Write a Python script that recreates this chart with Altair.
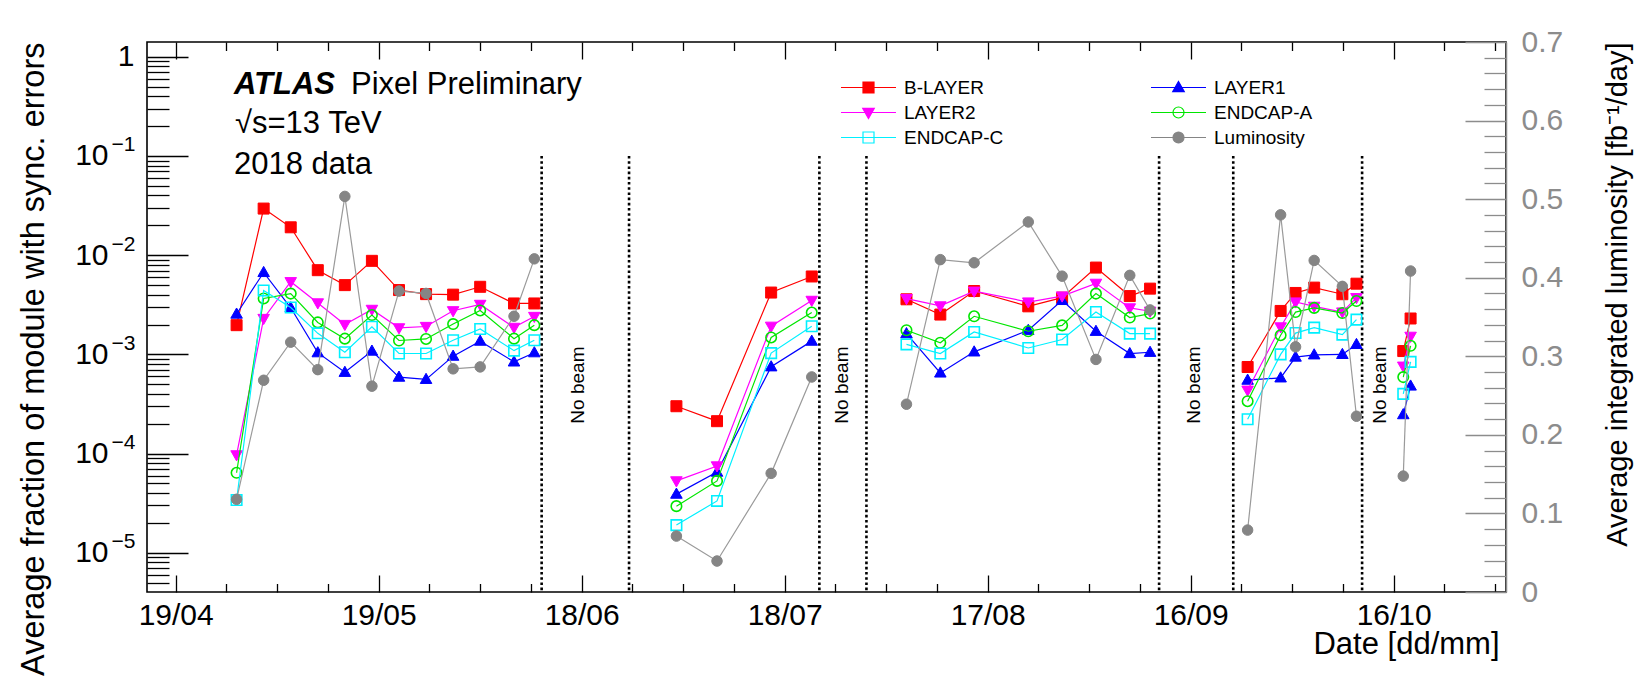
import altair as alt
import pandas as pd

FONT = "Liberation Sans"

# ---------------- values ----------------
SERIES = ["B-LAYER", "LAYER1", "LAYER2", "ENDCAP-A", "ENDCAP-C", "Luminosity"]
LEGEND_COL1 = ["B-LAYER", "LAYER2", "ENDCAP-C"]
LEGEND_COL2 = ["LAYER1", "ENDCAP-A", "Luminosity"]

DATES = [
    "2018-04-28T00:00", "2018-05-02T00:00", "2018-05-06T00:00", "2018-05-10T00:00",
    "2018-05-14T00:00", "2018-05-18T00:00", "2018-05-22T00:00", "2018-05-26T00:00",
    "2018-05-30T00:00", "2018-06-03T00:00", "2018-06-08T00:00", "2018-06-11T00:00",
    "2018-07-02T00:00", "2018-07-08T00:00", "2018-07-16T00:00", "2018-07-22T00:00",
    "2018-08-05T00:00", "2018-08-10T00:00", "2018-08-15T00:00", "2018-08-23T00:00",
    "2018-08-28T00:00", "2018-09-02T00:00", "2018-09-07T00:00", "2018-09-10T00:00",
    "2018-09-24T10:00", "2018-09-29T07:00", "2018-10-01T12:00", "2018-10-04T06:00",
    "2018-10-08T10:00", "2018-10-10T12:00",
    "2018-10-17T10:00", "2018-10-18T12:00",
]
PERIOD = [1, 1, 1, 1, 1, 1, 1, 1, 1, 1, 1, 1,
          2, 2, 2, 2,
          3, 3, 3, 3, 3, 3, 3, 3,
          4, 4, 4, 4, 4, 4,
          5, 5]

B_LAYER = [1.97e-3, 2.95e-2, 1.91e-2, 7.06e-3, 4.99e-3, 8.77e-3, 4.45e-3, 4.05e-3, 4.0e-3, 4.8e-3, 3.26e-3, 3.26e-3,
           3.0e-4, 2.12e-4, 4.2e-3, 6.1e-3,
           3.59e-3, 2.52e-3, 4.35e-3, 3.05e-3, 3.73e-3, 7.5e-3, 3.87e-3, 4.6e-3,
           7.46e-4, 2.74e-3, 4.16e-3, 4.71e-3, 4.04e-3, 5.16e-3,
           1.08e-3, 2.3e-3]
LAYER1 = [2.55e-3, 6.7e-3, 2.95e-3, 1.04e-3, 6.6e-4, 1.08e-3, 5.9e-4, 5.6e-4, 9.6e-4, 1.36e-3, 8.4e-4, 1.04e-3,
          3.9e-5, 6.5e-5, 7.5e-4, 1.36e-3,
          1.62e-3, 6.5e-4, 1.06e-3, 1.75e-3, 3.5e-3, 1.71e-3, 1.02e-3, 1.05e-3,
          5.5e-4, 5.8e-4, 9.4e-4, 9.9e-4, 1.0e-3, 1.26e-3,
          2.47e-4, 4.8e-4]
LAYER2 = [9.7e-5, 2.3e-3, 5.4e-3, 3.3e-3, 2.0e-3, 2.84e-3, 1.85e-3, 1.91e-3, 2.75e-3, 3.19e-3, 1.87e-3, 2.41e-3,
          5.3e-5, 7.5e-5, 1.92e-3, 3.5e-3,
          3.65e-3, 3.08e-3, 4.33e-3, 3.37e-3, 3.87e-3, 5.2e-3, 2.94e-3, 2.72e-3,
          4.35e-4, 1.89e-3, 3.37e-3, 3.05e-3, 2.67e-3, 3.73e-3,
          7.6e-4, 1.52e-3]
ENDCAP_A = [6.4e-5, 3.66e-3, 4.1e-3, 2.1e-3, 1.44e-3, 2.49e-3, 1.38e-3, 1.43e-3, 2.02e-3, 2.77e-3, 1.44e-3, 1.97e-3,
            2.95e-5, 5.3e-5, 1.48e-3, 2.64e-3,
            1.75e-3, 1.31e-3, 2.42e-3, 1.71e-3, 1.96e-3, 4.1e-3, 2.35e-3, 2.58e-3,
            3.37e-4, 1.56e-3, 2.67e-3, 2.94e-3, 2.61e-3, 3.45e-3,
            5.9e-4, 1.22e-3]
ENDCAP_C = [3.4e-5, 4.4e-3, 2.97e-3, 1.63e-3, 1.05e-3, 1.9e-3, 1.02e-3, 1.02e-3, 1.39e-3, 1.8e-3, 1.09e-3, 1.39e-3,
            1.9e-5, 3.33e-5, 1.03e-3, 1.92e-3,
            1.26e-3, 1.02e-3, 1.68e-3, 1.16e-3, 1.41e-3, 2.67e-3, 1.62e-3, 1.62e-3,
            2.22e-4, 1.0e-3, 1.64e-3, 1.86e-3, 1.58e-3, 2.24e-3,
            4.0e-4, 8.4e-4]
LUMINOSITY = [0.118, 0.2695, 0.318, 0.283, 0.5035, 0.262, 0.383, 0.380, 0.284, 0.2865, 0.351, 0.424,
              0.0712, 0.0394, 0.151, 0.2737,
              0.239, 0.423, 0.419, 0.471, 0.402, 0.296, 0.403, 0.359,
              0.0788, 0.480, 0.312, 0.422, 0.389, 0.2237,
              0.1475, 0.4085]

NO_BEAM_EDGES = ["2018-06-12T02:00", "2018-06-25T00:00", "2018-07-23T03:00", "2018-07-30T02:00",
                 "2018-09-11T08:00", "2018-09-22T07:00", "2018-10-11T08:00"]
NO_BEAM_LABEL_DATES = ["2018-06-17T12:00", "2018-07-26T10:00", "2018-09-16T12:00", "2018-10-14T00:00"]
NO_BEAM_EDGE_TOP = 0.1
NO_BEAM_LABEL_LEVEL = 4.9e-4

X_MAJOR = [(4, 19, 0), (5, 19, 0), (6, 18, 0), (7, 18, 0), (8, 17, 0), (9, 16, 0), (10, 16, 0)]
X_MINOR = [(4, 26, 12), (5, 4, 0), (5, 11, 12), (5, 26, 12), (6, 3, 0), (6, 10, 12),
           (6, 25, 12), (7, 3, 0), (7, 10, 12), (7, 25, 12), (8, 2, 0), (8, 9, 12),
           (8, 24, 12), (9, 1, 0), (9, 8, 12), (9, 23, 12), (10, 1, 0), (10, 8, 12),
           (10, 23, 12), (10, 31, 0)]
Y_MAJOR = [1e-5, 1e-4, 1e-3, 1e-2, 1e-1, 1.0]
Y_MINOR = [m * 10.0 ** e for e in range(-6, 1) for m in range(2, 10) if 4.05e-6 < m * 10.0 ** e < 1.41]
R_MAJOR = [0.0, 0.1, 0.2, 0.3, 0.4, 0.5, 0.6, 0.7]
R_MINOR = [round(k * 0.02, 2) for k in range(1, 35) if k % 5 != 0]

# ---------------- styling ----------------
W, H = 1359, 550
COLORS = ["#ff0000", "#0000ff", "#ff00ff", "#00e600", "#00f0ff", "#858585"]
SQ = "M-1,-1H1V1H-1Z"
TU = "M0,-1.1L1.05,0.75H-1.05Z"
TD = "M0,1.1L1.05,-0.75H-1.05Z"
CI = "M1,0A1,1,0,1,1,-1,0A1,1,0,1,1,1,0Z"
SHAPES = [SQ, TU, TD, CI, SQ, CI]
FILLED = [True, True, True, False, False, True]
STYLE = {s: (c, p, f) for s, c, p, f in zip(SERIES, COLORS, SHAPES, FILLED)}
VALUES = [B_LAYER, LAYER1, LAYER2, ENDCAP_A, ENDCAP_C, LUMINOSITY]


def dt(m, d, h=0, mi=0):
    return alt.DateTime(year=2018, month=m, date=d, hours=h, minutes=mi)


XS = alt.Scale(type="time", domain=[dt(4, 14, 18, 15), dt(11, 1, 14, 24)], nice=False)
YS = alt.Scale(type="log", domain=[4.02e-6, 1.41], nice=False)
YR = alt.Scale(type="linear", domain=[0, 0.7], nice=False, zero=False)

rows = []
for name, vals in zip(SERIES, VALUES):
    for d, p, v in zip(DATES, PERIOD, vals):
        rows.append({"date": d, "period": p, "series": name, "value": v})
df = pd.DataFrame(rows)

TICKCOL = "black"
GRAY = "#8c8c8c"


def tick_axis(orient, offset, values, size, color=TICKCOL):
    return alt.Axis(orient=orient, offset=offset, values=values, ticks=True, tickSize=size,
                    tickWidth=1.3, tickColor=color, labels=False, domain=False, grid=False, title=None)


xmaj = [dt(*t) for t in X_MAJOR]
xmin = [dt(*t) for t in X_MINOR]

X_AXES = [
    alt.Axis(orient="bottom", values=xmaj, format="%d/%m", ticks=False, domain=False, grid=False,
             labelFontSize=30, labelPadding=8, labelFlush=False, labelOverlap=False,
             title="Date [dd/mm]", titleFontSize=31, titleAnchor="end", titleAlign="right",
             titleX=W - 7, titleY=61, titleBaseline="alphabetic"),
    tick_axis("top", -H, xmaj, 17),
    tick_axis("top", -H, xmin, 8.5),
    tick_axis("bottom", -H, xmaj, 17),
    tick_axis("bottom", -H, xmin, 8.5),
]
EXP_W = 26
Y_AXES = [
    alt.Axis(orient="left", values=Y_MAJOR[:-1], ticks=False, domain=False, grid=False,
             labelFontSize=30, labelPadding=13 + EXP_W, labelOverlap=False, labelExpr="'10'",
             title="Average fraction of module with sync. errors", titleFontSize=32.5,
             titleAngle=270, titleAnchor="end", titleAlign="right", titleBaseline="middle",
             titleX=-114, titleY=0),
    alt.Axis(orient="left", values=Y_MAJOR[:-1], ticks=False, domain=False, grid=False,
             labelFontSize=21, labelPadding=12, labelOverlap=False, labelOffset=-11,
             labelExpr="'−' + round(-log(datum.value)/LN10)", title=None),
    alt.Axis(orient="left", values=Y_MAJOR[-1:], ticks=False, domain=False, grid=False,
             labelFontSize=30, labelPadding=13, labelOverlap=False, labelExpr="'1'", title=None),
    tick_axis("right", -W, Y_MAJOR, 41),
    tick_axis("right", -W, Y_MINOR, 22),
]
R_AXES = [
    alt.Axis(orient="right", values=R_MAJOR, ticks=False, domain=True, domainColor=GRAY, domainWidth=1.5,
             grid=False, labelFontSize=30, labelPadding=15, labelColor=GRAY, labelOverlap=False,
             labelExpr="datum.value == 0 ? '0' : format(datum.value, '.1f')",
             title="Average integrated luminosity [fb⁻¹/day]", titleFontSize=29,
             titleAngle=270, titleAnchor="end", titleAlign="right", titleBaseline="middle",
             titleX=111, titleY=0),
    tick_axis("left", -W, R_MAJOR, 41, GRAY),
    tick_axis("left", -W, R_MINOR, 22, GRAY),
]

counter = {"x": 0, "y": 0}


def next_axis(kind, axes):
    i = counter[kind]
    counter[kind] += 1
    return axes[i] if i < len(axes) else None


def X(field="date:T"):
    return alt.X(field, scale=XS, axis=next_axis("x", X_AXES))


def Y(field):
    return alt.Y(field, scale=YS, axis=next_axis("y", Y_AXES))


left_layers = []

edges = pd.DataFrame({"date": NO_BEAM_EDGES, "top": [NO_BEAM_EDGE_TOP] * len(NO_BEAM_EDGES)})
left_layers.append(
    alt.Chart(edges).mark_rule(color="black", strokeWidth=2.6, strokeDash=[2.6, 2.6])
    .encode(x=X(), y=Y("top:Q"), y2=alt.value(H))
)
nb = pd.DataFrame({"date": NO_BEAM_LABEL_DATES, "level": [NO_BEAM_LABEL_LEVEL] * len(NO_BEAM_LABEL_DATES),
                   "txt": ["No beam"] * len(NO_BEAM_LABEL_DATES)})
left_layers.append(
    alt.Chart(nb).mark_text(angle=270, font=FONT, fontSize=19, color="black", align="center", baseline="middle")
    .encode(x=X(), y=Y("level:Q"), text="txt:N")
)

for name in SERIES[:5]:
    col, shp, filled = STYLE[name]
    sub = df[df.series == name]
    left_layers.append(
        alt.Chart(sub).mark_line(color=col, strokeWidth=1.2)
        .encode(x=X(), y=Y("value:Q"), detail="period:N")
    )
    if filled:
        mk = alt.Chart(sub).mark_point(shape=shp, size=121, filled=True, fill=col, stroke=col,
                                       strokeWidth=1, opacity=1)
    else:
        mk = alt.Chart(sub).mark_point(shape=shp, size=110, filled=False, fill="transparent", stroke=col,
                                       strokeWidth=1.6, opacity=1)
    left_layers.append(mk.encode(x=X(), y=Y("value:Q")))


def legend_layer(names, lx, ly):
    leg = dict(title=None, orient="none", legendX=lx, legendY=ly, direction="vertical",
               rowPadding=5, labelFont=FONT, labelFontSize=19, labelColor="black", labelOffset=26,
               symbolSize=121, symbolStrokeWidth=1.2, symbolOpacity=1, padding=0, labelLimit=400)
    paths = ["M-5,0H5" + STYLE[n][1] for n in names]
    cols = [STYLE[n][0] for n in names]
    fills = [STYLE[n][0] if STYLE[n][2] else "transparent" for n in names]
    return alt.Chart(pd.DataFrame({"series": names})).mark_point(opacity=0, size=121, filled=True).encode(
        x=alt.value(-60), y=alt.value(-60),
        shape=alt.Shape("series:N", scale=alt.Scale(domain=names, range=paths), legend=alt.Legend(**leg)),
        stroke=alt.Stroke("series:N", scale=alt.Scale(domain=names, range=cols), legend=alt.Legend(**leg)),
        fill=alt.Fill("series:N", scale=alt.Scale(domain=names, range=fills), legend=alt.Legend(**leg)),
    )


left_layers.append(legend_layer(LEGEND_COL1, 712, 36))
left_layers.append(legend_layer(LEGEND_COL2, 1022, 36))

one = pd.DataFrame({"a": [0]})
left_layers.append(alt.Chart(one).mark_text(text="ATLAS", font=FONT, fontSize=31, fontStyle="italic",
                                            fontWeight="bold", align="left", baseline="alphabetic")
                   .encode(x=alt.value(87), y=alt.value(51.5)))
left_layers.append(alt.Chart(one).mark_text(text="Pixel Preliminary", font=FONT, fontSize=31,
                                            align="left", baseline="alphabetic")
                   .encode(x=alt.value(204), y=alt.value(51.5)))
left_layers.append(alt.Chart(one).mark_text(text="√s=13 TeV", font=FONT, fontSize=31,
                                            align="left", baseline="alphabetic")
                   .encode(x=alt.value(88), y=alt.value(91)))
left_layers.append(alt.Chart(one).mark_text(text="2018 data", font=FONT, fontSize=31,
                                            align="left", baseline="alphabetic")
                   .encode(x=alt.value(87), y=alt.value(131.5)))

left = (alt.layer(*left_layers)
        .resolve_axis(x="independent", y="independent")
        .resolve_scale(shape="independent", stroke="independent", fill="independent"))

lumi = df[df.series == "Luminosity"]
rx = alt.X("date:T", scale=XS, axis=None)
right = alt.layer(
    alt.Chart(lumi).mark_line(color="#9a9a9a", strokeWidth=1.2)
    .encode(x=rx, y=alt.Y("value:Q", scale=YR, axis=R_AXES[0]), detail="period:N"),
    alt.Chart(lumi).mark_point(shape=CI, size=110, filled=True, fill=COLORS[5], stroke=COLORS[5],
                               strokeWidth=1, opacity=1)
    .encode(x=rx, y=alt.Y("value:Q", scale=YR, axis=R_AXES[1])),
    alt.Chart(lumi).mark_point(opacity=0)
    .encode(x=rx, y=alt.Y("value:Q", scale=YR, axis=R_AXES[2])),
).resolve_axis(y="independent")

chart = (
    alt.layer(left, right)
    .resolve_scale(y="independent")
    .properties(width=W, height=H, padding={"left": 147, "top": 42, "right": 140, "bottom": 103},
                autosize=alt.AutoSizeParams(type="none"), background="white")
    .configure_view(stroke="black", strokeWidth=1.6)
    .configure_axis(labelFont=FONT, titleFont=FONT, labelColor="black", titleColor="black",
                    titleFontWeight="normal")
    .configure_legend(labelFont=FONT)
)

chart.save("out.html", embed_options={"renderer": "svg", "actions": False})
